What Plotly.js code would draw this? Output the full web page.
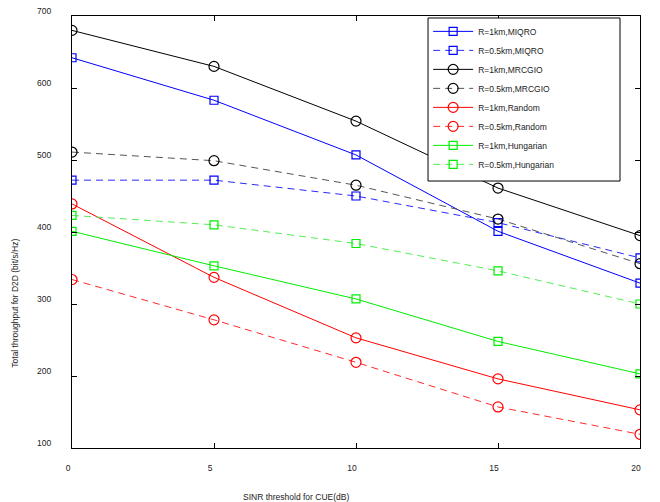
<!DOCTYPE html>
<html>
<head>
<meta charset="utf-8">
<script src="https://cdn.plot.ly/plotly-3.0.1.min.js"></script>
<style>html,body{margin:0;padding:0;background:#fff;}#chart{width:660px;height:502px;}</style>
</head>
<body>
<div id="chart"></div>
<script>
const sinr = [0, 5, 10, 15, 20];
const miqro1km   = [642, 583, 507, 401, 329];
const miqro05km  = [472, 472, 450, 413, 364];
const mrcgio1km  = [680, 630, 554, 461, 395];
const mrcgio05km = [511, 499, 465, 418, 356];
const random1km  = [439, 337, 253, 196, 153];
const random05km = [334, 278, 219, 157, 119];
const hung1km    = [401, 353, 307, 248, 203];
const hung05km   = [423, 410, 384, 346, 300];
const seriesNames = ['R=1km,MIQRO','R=0.5km,MIQRO','R=1km,MRCGIO','R=0.5km,MRCGIO',
                     'R=1km,Random','R=0.5km,Random','R=1km,Hungarian','R=0.5km,Hungarian'];
const xTitle = 'SINR threshold for CUE(dB)';
const yTitle = 'Total throughput for D2D (bit/s/Hz)';

const seriesData = [miqro1km, miqro05km, mrcgio1km, mrcgio05km, random1km, random05km, hung1km, hung05km];
const styles = [
  {c:'#0000ff', mc:'#0000ff', dash:'solid', sym:'square-open', sz:8},
  {c:'#2a2aff', mc:'#0000ff', dash:'7px,5px', sym:'square-open', sz:8},
  {c:'#000000', mc:'#000000', dash:'solid', sym:'circle-open', sz:10},
  {c:'#555555', mc:'#000000', dash:'7px,5px', sym:'circle-open', sz:10},
  {c:'#ff0000', mc:'#ff0000', dash:'solid', sym:'circle-open', sz:10},
  {c:'#ff2a2a', mc:'#ff0000', dash:'7px,5px', sym:'circle-open', sz:10},
  {c:'#00ee00', mc:'#00ee00', dash:'solid', sym:'square-open', sz:8},
  {c:'#55ee55', mc:'#00ee00', dash:'7px,5px', sym:'square-open', sz:8}
];

const traces = seriesData.map((ys, i) => ({
  x: sinr, y: ys, name: seriesNames[i], type: 'scatter', mode: 'lines+markers',
  line: {color: styles[i].c, width: 1, dash: styles[i].dash},
  marker: {symbol: styles[i].sym, size: styles[i].sz, color: styles[i].mc, line: {width: 1.2, color: styles[i].mc}}
}));

const axisCommon = {
  showgrid: false, zeroline: false, showline: true, linecolor: '#000', linewidth: 1,
  mirror: 'ticks', ticks: 'inside', ticklen: 5, tickcolor: '#000', tickwidth: 1
};

const layout = {
  width: 660, height: 502,
  margin: {l: 72, r: 20, t: 16, b: 54},
  paper_bgcolor: '#fff', plot_bgcolor: '#fff',
  font: {family: 'Liberation Sans, Arial, sans-serif', size: 8.5, color: '#222'},
  showlegend: true,
  xaxis: Object.assign({}, axisCommon, {range: [0, 20], tickvals: [0,5,10,15,20], ticklabelshift: -4, ticklabelstandoff: 12}),
  yaxis: Object.assign({}, axisCommon, {range: [100, 700], tickvals: [100,200,300,400,500,600,700], ticklabelshift: -5, ticklabelstandoff: 18}),
  legend: {
    x: 0.627, y: 0.998, xanchor: 'left', yanchor: 'top',
    bgcolor: 'rgba(0,0,0,0)', borderwidth: 0,
    font: {family: 'Liberation Sans, Arial, sans-serif', size: 8.5, color: '#222'},
    itemwidth: 40, tracegroupgap: 0
  },
  shapes: [
    {type: 'rect', xref: 'paper', yref: 'paper', x0: 0.6268, x1: 0.9648, y0: 0.618, y1: 0.9954,
     fillcolor: '#ffffff', line: {color: '#000000', width: 1}, layer: 'above'}
  ],
  annotations: [
    {text: xTitle, xref: 'paper', yref: 'paper', x: 0.394, y: -0.113, xanchor: 'center', yanchor: 'middle', showarrow: false, font: {size: 8.5}},
    {text: yTitle, xref: 'paper', yref: 'paper', x: -0.1, y: 0.3345, xanchor: 'center', yanchor: 'middle', textangle: -90, showarrow: false, font: {size: 8.5}}
  ]
};

Plotly.newPlot('chart', traces, layout, {displayModeBar: false, staticPlot: true});
</script>
</body>
</html>
